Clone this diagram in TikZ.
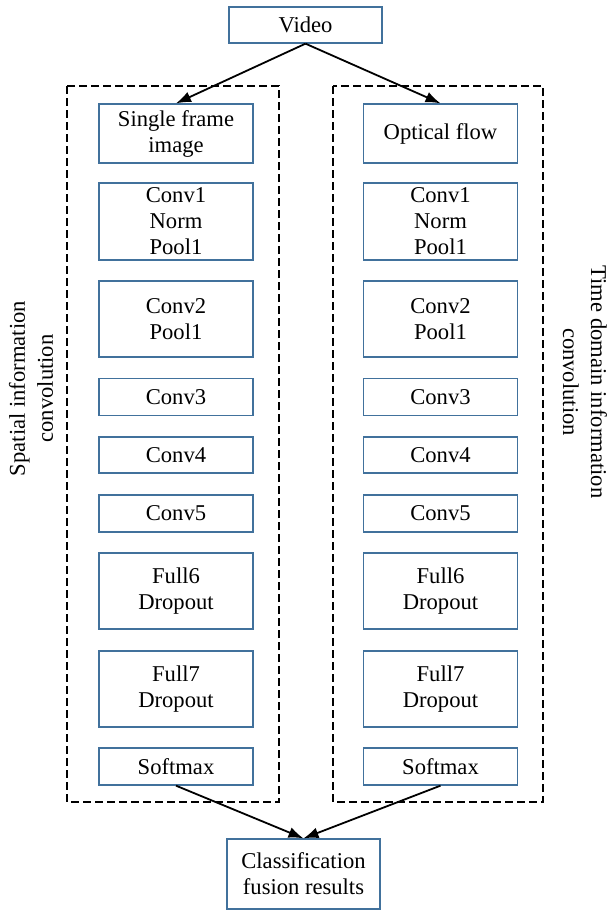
\documentclass[tikz,border=0pt]{standalone}
\usepackage{fontspec}
\setmainfont{Liberation Serif}
\usetikzlibrary{arrows.meta}
\definecolor{boxblue}{RGB}{65,113,156}
\begin{document}
\begin{tikzpicture}[x=1pt,y=-1pt,
  layer/.style={draw=boxblue, line width=1.3pt, fill=white, inner sep=0pt,
    align=center, minimum width=154pt, font=\fontsize{22.6}{26}\selectfont},
  group/.style={draw=black, dash pattern=on 8pt off 4pt, line width=1.3pt},
  flow/.style={-{Latex[length=15pt,width=11pt]}, line width=1.8pt},
  side/.style={align=center, inner sep=0pt, font=\fontsize{22.6}{28}\selectfont}]
\useasboundingbox (0,0) rectangle (606,910);

% dashed stream frames
\draw[group] (67,86) rectangle (279,802);
\draw[group] (333,86) rectangle (543,802);

% input and output
\node[layer, minimum width=153pt, minimum height=36pt] (video) at (305.5,25) {Video};
\node[layer, minimum width=153pt, minimum height=70pt] (fusion) at (303.5,874) {Classification\\fusion results};

% the two network streams
\foreach \s/\x in {l/176, r/440.5} {
  \node[layer, minimum height=37pt] (\s conv3) at (\x,397) {Conv3};
  \node[layer, minimum height=36pt] (\s conv4) at (\x,455) {Conv4};
  \node[layer, minimum height=37pt] (\s conv5) at (\x,513.5) {Conv5};
  \node[layer, minimum height=76pt] (\s conv2) at (\x,319) {Conv2\\Pool1};
  \node[layer, minimum height=77pt] (\s conv1) at (\x,221.5) {Conv1\\Norm\\Pool1};
  \node[layer, minimum height=76pt] (\s full6) at (\x,591) {Full6\\Dropout};
  \node[layer, minimum height=76pt] (\s full7) at (\x,689) {Full7\\Dropout};
  \node[layer, minimum height=37pt] (\s soft) at (\x,766.5) {Softmax};
}
\node[layer, minimum height=59pt] (lin) at (176,133.5) {Single frame\\image};
\node[layer, minimum height=59pt] (rin) at (440.5,133.5) {Optical flow};

% stream captions
\node[side, rotate=90] (lcap) at (31,388.5) {Spatial information\\convolution};
\node[side, rotate=-90] (rcap) at (585,382) {Time domain information\\convolution};

% connectors
\draw[flow] (video.south) -- (lin.north);
\draw[flow] (video.south) -- (rin.north);
\draw[flow] (lsoft.south) -- (fusion.north);
\draw[flow] (rsoft.south) -- (fusion.north);
\end{tikzpicture}
\end{document}
